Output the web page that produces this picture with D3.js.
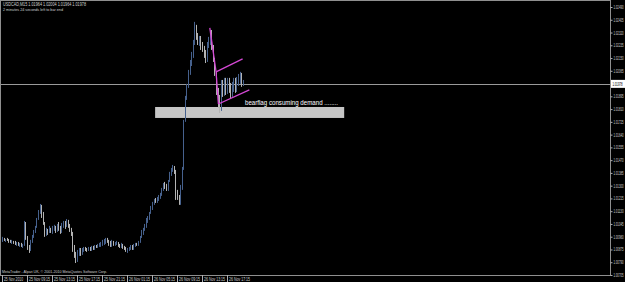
<!DOCTYPE html>
<html><head><meta charset="utf-8">
<script src="https://cdn.jsdelivr.net/npm/d3@7"></script>
<style>html,body{margin:0;padding:0;background:#000;overflow:hidden}svg{display:block}</style>
</head><body><svg id="c" width="625" height="282"></svg>
<script>
const symbol = "USDCAD,M15";
const timerText = "2 minutes 24 seconds left to bar end";
const copyright = "MetaTrader - Alpari UK, \u00A9 2001-2010 MetaQuotes Software Corp.";

const firstOpen = 1.00945;
const highs = [
1.00959,1.00952,1.00945,1.00952,1.00945,1.00939,1.00939,1.00932,1.00932,1.00925,
1.00925,1.00919,1.00919,1.00912,1.01065,1.01058,1.00965,1.00905,1.00939,1.00972,
1.01005,1.01032,1.01085,1.01138,1.01178,1.01172,1.01125,1.01058,1.01019,1.01012,
1.01032,1.01019,1.01032,1.01039,1.01032,1.01045,1.01058,1.01032,1.01052,1.01065,
1.01065,1.01078,1.01072,1.01045,1.01019,1.00992,1.00905,1.00859,1.00872,1.00885,
1.00885,1.00885,1.00892,1.00892,1.00885,1.00892,1.00892,1.00899,1.00899,1.00905,
1.00905,1.00912,1.00919,1.00925,1.00939,1.00945,1.00952,1.00952,1.00939,1.00932,
1.00939,1.00932,1.00925,1.00932,1.00925,1.00912,1.00919,1.00912,1.00899,1.00892,
1.00885,1.00892,1.00905,1.00905,1.00912,1.00919,1.00919,1.00932,1.00965,1.01005,
1.01019,1.01045,1.01085,1.01098,1.01125,1.01165,1.01192,1.01212,1.01218,1.01225,
1.01238,1.01252,1.01285,1.01318,1.01325,1.01312,1.01338,1.01392,1.01418,1.01438,
1.01431,1.01405,1.01272,1.01238,1.01305,1.01425,1.01738,1.01898,1.01978,1.02071,
1.02137,1.02191,1.02271,1.02391,1.02371,1.02317,1.02297,1.02297,1.02257,1.02231,
1.02204,1.02257,1.02291,1.02337,1.02337,1.02237,1.02151,1.02058,1.01951,1.01904,
1.02004,1.02004,1.02018,1.02018,1.02018,1.02018,1.01984,1.01991,1.02018,1.02018,
1.02024,1.02044,1.02058,1.02051,1.02004];
const lows = [
1.00925,1.00932,1.00925,1.00932,1.00919,1.00919,1.00912,1.00912,1.00905,1.00899,
1.00899,1.00892,1.00892,1.00885,1.00899,1.00939,1.00872,1.00852,1.00865,1.00919,
1.00952,1.00985,1.01019,1.01072,1.01112,1.01085,1.01039,1.00959,1.00965,1.00972,
1.00985,1.00985,1.00979,1.00999,1.00985,1.00992,1.00999,1.00979,1.00985,1.01019,
1.01012,1.01025,1.01019,1.00992,1.00965,1.00859,1.00819,1.00785,1.00792,1.00832,
1.00832,1.00839,1.00859,1.00865,1.00859,1.00865,1.00865,1.00865,1.00872,1.00872,
1.00885,1.00885,1.00892,1.00892,1.00899,1.00905,1.00912,1.00919,1.00899,1.00892,
1.00892,1.00899,1.00899,1.00905,1.00892,1.00885,1.00885,1.00879,1.00872,1.00859,
1.00852,1.00865,1.00872,1.00872,1.00872,1.00892,1.00899,1.00899,1.00919,1.00952,
1.00972,1.00999,1.01019,1.01052,1.01072,1.01112,1.01138,1.01172,1.01185,1.01185,
1.01198,1.01212,1.01232,1.01265,1.01278,1.01265,1.01265,1.01325,1.01365,1.01392,
1.01378,1.01205,1.01205,1.01172,1.01172,1.01272,1.01405,1.01725,1.01871,1.01951,
1.02038,1.02097,1.02151,1.02237,1.02271,1.02237,1.02231,1.02204,1.02191,1.02151,
1.02117,1.02124,1.02217,1.02237,1.02204,1.02124,1.02031,1.01904,1.01818,1.01784,
1.01798,1.01891,1.01898,1.01904,1.01911,1.01918,1.01884,1.01891,1.01924,1.01918,
1.01924,1.01964,1.01978,1.01958,1.01964];
const closes = [
1.00952,1.00939,1.00945,1.00939,1.00932,1.00925,1.00932,1.00919,1.00912,1.00919,
1.00905,1.00912,1.00899,1.00905,1.01052,1.00952,1.00885,1.00865,1.00932,1.00965,
1.00999,1.01025,1.01078,1.01132,1.01165,1.01098,1.01052,1.00972,1.01012,1.00985,
1.01025,1.00992,1.01012,1.01032,1.00992,1.01039,1.01019,1.00985,1.01045,1.01058,
1.01025,1.01072,1.01032,1.01005,1.00979,1.00872,1.00832,1.00799,1.00865,1.00879,
1.00845,1.00879,1.00885,1.00879,1.00872,1.00885,1.00872,1.00892,1.00879,1.00899,
1.00892,1.00905,1.00912,1.00919,1.00932,1.00939,1.00945,1.00925,1.00905,1.00899,
1.00932,1.00905,1.00919,1.00925,1.00899,1.00892,1.00912,1.00885,1.00879,1.00865,
1.00879,1.00885,1.00899,1.00879,1.00905,1.00912,1.00905,1.00925,1.00959,1.00999,
1.01012,1.01039,1.01078,1.01092,1.01118,1.01158,1.01185,1.01205,1.01192,1.01218,
1.01232,1.01245,1.01278,1.01312,1.01292,1.01272,1.01332,1.01385,1.01412,1.01431,
1.01392,1.01218,1.01212,1.01178,1.01298,1.01418,1.01731,1.01891,1.01971,1.02064,
1.02131,1.02184,1.02264,1.02371,1.02284,1.02244,1.02291,1.02211,1.02197,1.02157,
1.02124,1.02251,1.02284,1.02331,1.02211,1.02131,1.02038,1.01911,1.01824,1.01798,
1.01998,1.01898,1.02011,1.01911,1.02011,1.01924,1.01891,1.01984,1.02011,1.01924,
1.02018,1.02038,1.02051,1.01964,1.01978];

const timeTickBars = [0,16,32,48,64,80,96,112,128,144];
const timeTickLabels = ["25 Nov 2010","25 Nov 09:15","25 Nov 13:15","25 Nov 17:15","25 Nov 21:15",
  "26 Nov 01:15","26 Nov 05:15","26 Nov 09:15","26 Nov 13:15","26 Nov 17:15"];
const priceTicks = [1.02490,1.02405,1.02320,1.02235,1.02150,1.02065,1.01980,1.01895,1.01810,1.01725,
  1.01640,1.01555,1.01470,1.01385,1.01300,1.01215,1.01130,1.01045,1.00960,1.00875,1.00790,1.00705];

// chart objects (time in bar index, price)
const zone = {from: 98, to: 219, top: 1.01824, bottom: 1.01751};
const trendLines = [
  {b0: 133, p0: 1.02351, b1: 137, p1: 1.02058},
  {b0: 137, p0: 1.02058, b1: 154, p1: 1.02144},
  {b0: 137, p0: 1.02058, b1: 138.5, p1: 1.01844},
  {b0: 138.5, p0: 1.01844, b1: 158.3, p1: 1.01938}
];
const note = {bar: 155.5, price: 1.01840, text: "bearflag consuming demand ........"};

const svg = d3.select("#c");
const W = 625, H = 282, plotR = 610, plotB = 275;
const FONT = "Arial, 'Liberation Sans', sans-serif";
svg.append("rect").attr("width", W).attr("height", H).attr("fill", "#000");

const x = d3.scaleLinear().domain([0, 388]).range([2, 608.25]);
const y = d3.scaleLinear().domain([1.00705, 1.02490]).range([275, 7]);

const bars = highs.map((h, i) => ({i, h, l: lows[i], c: closes[i], o: i ? closes[i-1] : firstOpen}));
const last = bars[bars.length - 1];
const f5 = d3.format(".5f");

// header
svg.append("text").attr("x", 3).attr("y", 5.5).attr("fill", "#d0d0d0")
  .attr("textLength", 83).attr("lengthAdjust", "spacingAndGlyphs")
  .style("font", `4.6px ${FONT}`)
  .text(`${symbol}  ${f5(last.o)} ${f5(last.h)} ${f5(last.l)} ${f5(last.c)}`);
svg.append("text").attr("x", 3).attr("y", 10.5).attr("fill", "#d0d0d0")
  .attr("textLength", 60).attr("lengthAdjust", "spacingAndGlyphs")
  .style("font", `4.2px ${FONT}`).text(timerText);

// zone rectangle (background)
svg.append("rect")
  .attr("x", x(zone.from)).attr("y", y(zone.top))
  .attr("width", x(zone.to) - x(zone.from)).attr("height", y(zone.bottom) - y(zone.top))
  .attr("fill", "#c6c6c6");

// bid line
const bidY = y(last.c);
svg.append("line").attr("x1", 0).attr("x2", plotR).attr("y1", Math.round(bidY) + 0.5).attr("y2", Math.round(bidY) + 0.5)
  .attr("stroke", "#9a9a9a").attr("stroke-width", 1);

// bars
svg.append("g").selectAll("line").data(bars).join("line")
  .attr("x1", d => Math.round(x(d.i)) + 0.5).attr("x2", d => Math.round(x(d.i)) + 0.5)
  .attr("y1", d => y(d.h)).attr("y2", d => y(d.l))
  .attr("stroke", d => d.c >= d.o ? "#46618d" : "#b4b4b4")
  .attr("stroke-width", 1);

// trend lines
svg.append("g").selectAll("line").data(trendLines).join("line")
  .attr("x1", d => x(d.b0)).attr("y1", d => y(d.p0))
  .attr("x2", d => x(d.b1)).attr("y2", d => y(d.p1))
  .attr("stroke", "#d548d5").attr("stroke-width", 1.3);

// note
svg.append("text").attr("x", x(note.bar)).attr("y", y(note.price))
  .attr("fill", "#ffffff").attr("textLength", 93).attr("lengthAdjust", "spacingAndGlyphs")
  .style("font", `7px ${FONT}`).text(note.text);

// frame
svg.append("rect").attr("x", 0.5).attr("y", 0.5).attr("width", plotR).attr("height", plotB)
  .attr("fill", "none").attr("stroke", "#8f8f8f").attr("stroke-width", 1);

// price axis
const shownTicks = priceTicks.filter(p => Math.abs(y(p) - bidY) > 6);
const ax = svg.append("g").attr("transform", `translate(${plotR + 0.5},0)`)
  .call(d3.axisRight(y).tickValues(shownTicks).tickFormat(f5).tickSize(2).tickPadding(1));
ax.select(".domain").remove();
ax.selectAll("line").attr("stroke", "#b0b0b0");
ax.selectAll("text").attr("fill", "#cfcfcf").attr("textLength", 10).attr("lengthAdjust", "spacingAndGlyphs")
  .style("font", `4.6px ${FONT}`);

// bid label
svg.append("rect").attr("x", plotR + 1).attr("y", bidY - 4).attr("width", W - plotR - 1).attr("height", 8).attr("fill", "#ffffff");
svg.append("text").attr("x", plotR + 2.5).attr("y", bidY + 1.7).attr("fill", "#000")
  .attr("textLength", 10).attr("lengthAdjust", "spacingAndGlyphs")
  .style("font", `4.6px ${FONT}`).text(f5(last.c));

// time axis
const tg = svg.append("g").selectAll("g").data(timeTickBars).join("g")
  .attr("transform", d => `translate(${Math.round(x(d)) + 0.5},0)`);
tg.append("line").attr("y1", plotB).attr("y2", H).attr("stroke", "#b0b0b0");
tg.append("text").attr("x", 1.5).attr("y", 280.5).attr("fill", "#cfcfcf")
  .attr("textLength", (d, i) => i === 0 ? 19 : 21).attr("lengthAdjust", "spacingAndGlyphs")
  .style("font", `4.6px ${FONT}`)
  .text((d, i) => timeTickLabels[i]);

// copyright
svg.append("text").attr("x", 2).attr("y", 273).attr("fill", "#cfcfcf")
  .attr("textLength", 105).attr("lengthAdjust", "spacingAndGlyphs")
  .style("font", `4.2px ${FONT}`).text(copyright);
</script>
</body></html>
